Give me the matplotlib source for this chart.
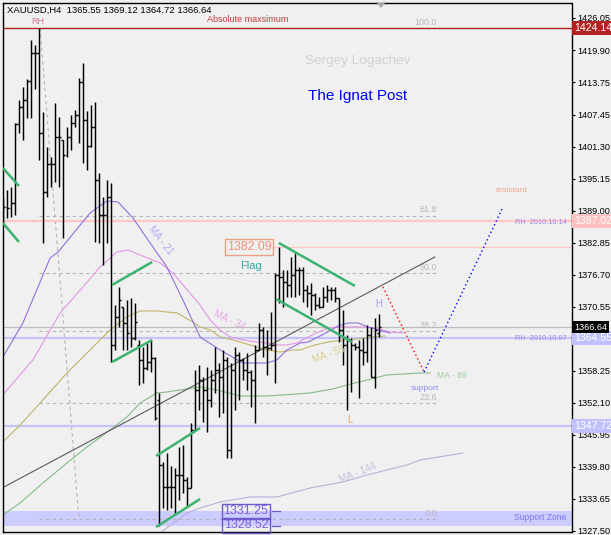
import matplotlib
matplotlib.use("Agg")
import matplotlib.pyplot as plt
import matplotlib.transforms as mtransforms
from matplotlib.collections import LineCollection
from matplotlib.patches import Polygon

plt.rcParams['font.family'] = ['Liberation Sans', 'DejaVu Sans']

# ---------------- data ----------------
symbol = "XAUUSD,H4"
last_ohlc = [1365.55, 1369.12, 1364.72, 1366.64]

opens = [1388.20, 1389.74, 1389.55, 1390.51, 1405.69, 1408.95, 1410.30, 1413.95, 1419.33, 1419.33,
         1403.96, 1392.62, 1398.00, 1398.00, 1403.19, 1402.61, 1399.73, 1403.19, 1405.88, 1407.42,
         1413.76, 1406.46, 1401.46, 1405.11, 1394.93, 1388.20, 1388.20, 1391.66, 1363.23, 1368.61,
         1370.53, 1367.46, 1365.53, 1364.57, 1363.23, 1360.35, 1358.81, 1359.96, 1360.73, 1352.66,
         1340.17, 1335.95, 1335.95, 1335.95, 1338.25, 1338.25, 1337.29, 1335.76, 1346.90, 1354.58,
         1356.50, 1354.58, 1352.66, 1356.50, 1358.43, 1357.08, 1360.35, 1343.06, 1358.43, 1361.31,
         1360.35, 1358.43, 1358.04, 1356.50, 1362.27, 1366.11, 1362.84, 1362.65, 1363.23, 1376.68,
         1376.29, 1375.33, 1374.76, 1376.68, 1377.64, 1377.64, 1373.80, 1373.22, 1372.83, 1370.91,
         1370.53, 1372.45, 1373.80, 1373.80, 1372.26, 1366.11, 1363.23, 1364.19, 1363.23, 1362.84,
         1362.27, 1361.88, 1365.15, 1357.08, 1365.55]
highs = [1391.66, 1393.01, 1393.58, 1405.88, 1410.30, 1412.80, 1414.33, 1421.83, 1420.86, 1424.14,
         1407.99, 1401.27, 1399.35, 1409.72, 1407.03, 1402.61, 1405.11, 1407.42, 1408.38, 1414.52,
         1417.41, 1408.18, 1409.34, 1409.91, 1396.27, 1391.66, 1394.93, 1394.35, 1370.91, 1374.37,
         1370.53, 1371.87, 1372.26, 1371.30, 1364.19, 1362.84, 1363.61, 1364.19, 1360.92, 1354.01,
         1340.75, 1342.48, 1339.98, 1339.60, 1343.63, 1344.02, 1337.87, 1348.24, 1358.43, 1359.39,
         1357.08, 1359.00, 1358.43, 1362.84, 1359.77, 1362.27, 1360.92, 1359.77, 1362.84, 1361.88,
         1360.73, 1361.69, 1358.43, 1363.23, 1367.46, 1366.69, 1366.11, 1369.57, 1377.06, 1382.09,
         1377.64, 1377.64, 1380.14, 1380.90, 1378.21, 1378.21, 1374.76, 1375.14, 1373.22, 1372.45,
         1374.37, 1374.76, 1374.37, 1374.37, 1372.26, 1369.95, 1365.15, 1364.57, 1363.61, 1364.19,
         1364.57, 1367.07, 1366.69, 1368.42, 1369.12]
lows = [1386.67, 1387.63, 1387.82, 1388.20, 1403.96, 1402.61, 1406.84, 1406.84, 1412.41, 1398.77,
        1382.83, 1391.66, 1393.58, 1394.54, 1393.58, 1383.79, 1399.35, 1400.69, 1405.11, 1402.04,
        1398.19, 1396.85, 1401.27, 1383.02, 1382.83, 1378.60, 1382.83, 1359.96, 1362.27, 1366.69,
        1362.27, 1362.27, 1362.84, 1364.19, 1355.54, 1355.93, 1358.43, 1358.04, 1348.82, 1328.52,
        1331.91, 1331.53, 1331.91, 1330.95, 1333.45, 1334.79, 1332.11, 1335.76, 1346.90, 1350.74,
        1348.44, 1346.51, 1351.32, 1354.01, 1349.40, 1350.16, 1341.52, 1341.52, 1350.74, 1352.66,
        1356.50, 1354.58, 1351.32, 1348.24, 1362.27, 1360.92, 1357.46, 1362.27, 1355.93, 1371.30,
        1370.53, 1372.45, 1372.45, 1372.45, 1372.83, 1371.49, 1370.53, 1368.99, 1369.95, 1370.34,
        1370.53, 1371.49, 1371.87, 1371.49, 1363.80, 1359.39, 1350.74, 1354.20, 1362.27, 1353.05,
        1359.39, 1359.96, 1357.08, 1354.97, 1364.72]
closes = [1389.74, 1389.55, 1390.51, 1405.69, 1408.95, 1410.30, 1413.95, 1419.33, 1419.33, 1403.96,
          1392.62, 1398.00, 1398.00, 1403.19, 1403.19, 1399.73, 1403.19, 1405.88, 1407.42, 1413.76,
          1406.46, 1401.46, 1405.11, 1394.93, 1388.20, 1388.20, 1391.66, 1363.23, 1368.61, 1371.87,
          1367.46, 1365.53, 1364.57, 1367.65, 1360.35, 1358.81, 1359.96, 1360.73, 1349.20, 1340.17,
          1335.95, 1335.95, 1335.95, 1338.25, 1338.25, 1337.29, 1335.76, 1346.90, 1354.58, 1356.50,
          1354.58, 1352.66, 1356.50, 1358.43, 1357.08, 1360.35, 1343.06, 1358.43, 1361.31, 1360.35,
          1358.43, 1358.04, 1356.50, 1362.27, 1366.11, 1362.84, 1362.65, 1363.23, 1376.68, 1376.29,
          1375.33, 1374.76, 1376.68, 1377.64, 1377.64, 1373.80, 1373.22, 1372.83, 1370.91, 1370.53,
          1372.45, 1373.80, 1373.80, 1372.26, 1366.11, 1363.23, 1364.19, 1363.23, 1362.84, 1362.27,
          1361.88, 1365.15, 1357.08, 1366.11, 1366.64]

yticks = [1426.05, 1419.90, 1413.75, 1407.45, 1401.30, 1395.15, 1389.00, 1382.85, 1376.70,
          1370.55, 1358.25, 1352.10, 1345.95, 1339.80, 1333.65, 1327.50]

# moving averages (bar index, price)
ma21_x = [-0.1, 4.9, 11.7, 13.7, 21.7, 25.9, 28.7, 32.4, 36.7, 40.9, 44.9, 49.2, 54.2, 59.9, 65.9,
          68.4, 70.9, 74.2, 76.2, 79.7, 83.7, 86.2, 88.7, 91.2, 93.7, 96.7]
ma21_y = [1360.92, 1367.46, 1379.94, 1381.10, 1388.59, 1390.89, 1390.70, 1387.63, 1382.83, 1378.21,
          1371.87, 1364.77, 1362.27, 1359.77, 1359.77, 1360.35, 1362.27, 1363.61, 1363.80, 1365.15,
          1366.88, 1367.46, 1367.46, 1366.69, 1366.11, 1365.53]
ma34_x = [-0.8, 7.4, 14.2, 19.9, 24.2, 28.4, 31.2, 34.2, 39.2, 42.4, 49.2, 51.7, 54.2, 56.7, 59.9,
          63.4, 65.9, 68.4, 70.9, 73.4, 77.2, 81.2, 85.4, 89.7, 92.9, 96.7, 99.9]
ma34_y = [1353.05, 1360.35, 1369.38, 1374.37, 1378.21, 1381.10, 1381.48, 1380.52, 1378.98, 1377.06,
          1370.91, 1368.03, 1366.11, 1364.77, 1364.19, 1363.80, 1363.61, 1363.23, 1363.23, 1363.61,
          1365.15, 1366.50, 1366.69, 1366.69, 1366.50, 1365.73, 1365.53]
ma55_x = [-0.8, 4.2, 9.9, 15.9, 19.2, 26.7, 30.9, 34.2, 38.4, 43.4, 47.4, 49.2, 51.7, 54.2, 57.4,
          61.7, 65.9, 69.2, 72.4, 74.2, 77.9, 81.2, 85.4, 88.4, 92.2, 95.4]
ma55_y = [1344.02, 1347.86, 1352.66, 1357.85, 1360.35, 1366.11, 1368.61, 1369.76, 1369.76, 1369.38,
          1367.65, 1366.69, 1366.11, 1364.77, 1364.19, 1363.23, 1362.27, 1361.88, 1362.27, 1362.27,
          1363.23, 1363.80, 1364.19, 1364.38, 1364.77, 1364.96]
ma89_x = [-0.8, 4.2, 9.9, 15.9, 20.9, 26.7, 30.9, 34.2, 38.4, 40.9, 45.9, 49.2, 53.4, 59.2, 65.9,
          69.9, 76.7, 82.4, 85.9, 90.9, 95.9, 104.2, 106.7]
ma89_y = [1330.18, 1332.87, 1336.72, 1340.55, 1343.63, 1346.90, 1349.40, 1352.08, 1354.01, 1354.20,
          1354.78, 1355.16, 1354.58, 1353.43, 1353.43, 1353.62, 1354.01, 1354.78, 1355.54, 1356.50,
          1357.46, 1357.85, 1357.85]
ma144_x = [39.2, 45.9, 49.2, 54.2, 61.7, 68.4, 76.7, 84.9, 90.9, 95.9, 100.9, 104.2, 114.9]
ma144_y = [1327.11, 1330.95, 1331.91, 1333.07, 1334.03, 1334.03, 1335.76, 1336.91, 1338.25, 1339.21,
           1340.17, 1341.13, 1342.48]

# trend line
trend_x = [-0.3, 107.9]
trend_y = [1335.76, 1380.14]

# green channel segments
green_x0 = [-0.1, -0.1, 27.2, 27.2, 38.2, 38.2, 68.9, 68.2]
green_y0 = [1397.23, 1386.67, 1374.76, 1359.96, 1341.90, 1328.26, 1382.83, 1372.07]
green_x1 = [3.9, 3.9, 37.2, 37.2, 49.2, 49.2, 87.9, 87.2]
green_y1 = [1393.77, 1383.02, 1379.17, 1364.19, 1347.28, 1333.64, 1374.57, 1363.80]

# projection
proj_red_x = [94.9, 105.2]
proj_red_y = [1374.37, 1358.04]
proj_blue_x = [105.2, 124.7]
proj_blue_y = [1358.04, 1389.36]

# levels
abs_max = 1424.14
rh_1014 = 1387.02
flag_top = 1382.09
bid = 1366.64
rh_1007 = 1364.55
level_1347 = 1347.72
zone_low = 1328.52
zone_high = 1331.25

fib_high = 1424.14
fib_low = 1329.80
fib_levels = [0.0, 23.6, 38.2, 50.0, 61.8, 100.0]
fib_x = [9.0, 108.4]
fib_diag_x = [9.2, 18.9]
fib_diag_y = [1424.14, 1329.80]

# ---------------- figure ----------------
BG = '#F0F0F0'
W, H = 611, 535
fig = plt.figure(figsize=(W / 100, H / 100), dpi=100, facecolor=BG)
ax = fig.add_axes([2.5 / W, 3 / H, 569 / W, 529 / H])
ax.set_facecolor(BG)
ax.set_xlim(-0.2, 142.05)
ax.set_ylim(1327.30, 1428.93)

PX = mtransforms.Affine2D().scale(1 / W, -1 / H).translate(0, 1) + fig.transFigure
BL = mtransforms.blended_transform_factory(PX, ax.transData)

# support zone
ax.axhspan(zone_low, zone_high, color='#CCCCFF', lw=0, zorder=0.5)

# fibonacci
for lev in fib_levels:
    p = fib_low + lev / 100.0 * (fib_high - fib_low)
    ax.hlines(p, fib_x[0], fib_x[1], colors='#B4B4B4', linestyles=(0, (3, 3)), lw=0.8, zorder=1)
    ax.text(fib_x[1], p + 0.25, f"{lev:.1f}", color='#B8B8B8', fontsize=6.4,
            ha='right', va='bottom', zorder=1)
ax.plot(fib_diag_x, fib_diag_y, color='#B4B4B4', ls=(0, (3, 3)), lw=0.8, zorder=1)

# horizontal lines
ax.axhline(rh_1014, color='#FFC4C4', lw=1.6, zorder=1)
ax.hlines(flag_top, 67.4, 142.05, colors='#FFC8C8', lw=0.9, zorder=1)
ax.axhline(bid, color='#BDBDBD', lw=0.9, zorder=1)
ax.axhline(rh_1007, color='#C4C4F8', lw=1.6, zorder=1)
ax.axhline(level_1347, color='#C4C4F8', lw=1.6, zorder=1)
ax.axhline(abs_max, color='#B22222', lw=1.0, zorder=1.2)

# MAs
ax.plot(ma144_x, ma144_y, color='#B8B0DC', lw=0.8, zorder=2)
ax.plot(ma89_x, ma89_y, color='#86BC86', lw=0.8, zorder=2)
ax.plot(ma55_x, ma55_y, color='#C2B468', lw=0.8, zorder=2)
ax.plot(ma34_x, ma34_y, color='#E496E4', lw=0.8, zorder=2)
ax.plot(ma21_x, ma21_y, color='#9370DB', lw=0.8, zorder=2)
ax.plot(trend_x, trend_y, color='#5A5A5A', lw=0.8, zorder=2)

# OHLC bars
segs = []
for i, (o, h, l, c) in enumerate(zip(opens, highs, lows, closes)):
    segs.append([(i, l), (i, h)])
    segs.append([(i - 0.45, o), (i, o)])
    segs.append([(i, c), (i + 0.45, c)])
ax.add_collection(LineCollection(segs, colors='black', linewidths=1.05, zorder=3))

# green channel lines
for x0, y0, x1, y1 in zip(green_x0, green_y0, green_x1, green_y1):
    ax.plot([x0, x1], [y0, y1], color='#3CB371', lw=1.8, solid_capstyle='butt', zorder=4)

# projection
ax.plot(proj_red_x, proj_red_y, color='#FF0000', ls=(0, (1, 2)), lw=1.0, zorder=4)
ax.plot(proj_blue_x, proj_blue_y, color='#0000FF', ls=(0, (1, 2)), lw=1.0, zorder=4)

# axes styling
for s in ax.spines.values():
    s.set_color('black')
    s.set_linewidth(1.0)
ax.set_xticks([])
ax.yaxis.tick_right()
ax.set_yticks(yticks)
ax.set_yticklabels([f"{v:.2f}" for v in yticks])
ax.tick_params(axis='y', direction='out', length=2.5, width=0.8, pad=1.5, labelsize=6.6,
               colors='black')

# right price boxes
for p, col, fs in [(abs_max, '#B22222', 7.6), (rh_1014, '#FFC0C0', 7.6),
                   (level_1347, '#C0C0FF', 7.6), (rh_1007, '#C0C0FF', 7.6), (bid, '#000000', 6.6)]:
    ax.text(574, p, f"{p:.2f}", transform=BL, color='white', fontsize=fs,
            ha='left', va='center',
            bbox=dict(boxstyle='square,pad=0.18', fc=col, ec='none'), zorder=6)

# texts (placed in image pixel coordinates)
def t(x, y, s, **kw):
    kw.setdefault('ha', 'center')
    kw.setdefault('va', 'center')
    return fig.text(x, y, s, transform=PX, **kw)

t(7, 10, f"{symbol}  " + " ".join(f"{v:.2f}" for v in last_ohlc), ha='left',
  fontsize=6.8, color='black')
t(38, 21, "RH", fontsize=6.5, color='#D07890')
t(207, 19.5, "Absolute maxsimum", ha='left', fontsize=6.5, color='#C83C3C')
t(358, 61, "Sergey Logachev", fontsize=9.7, color='#D2D2D2')
t(358, 96, "The Ignat Post", fontsize=11, color='#0000FF')
t(511, 190, "resistant", fontsize=6.0, color='#F0A88C')
t(567, 222, "RH  2010.10.14", ha='right', fontsize=5.3, color='#9A8AE8')
t(567, 338, "RH  2010.10.07", ha='right', fontsize=5.3, color='#9A8AE8')
t(249, 247, f"{flag_top:.2f}", fontsize=8.9, color='#F09070',
  bbox=dict(boxstyle='square,pad=0.15', fc='none', ec='#E8A080', lw=1.0))
t(251, 266, "Flag", fontsize=8, color='#30A8A8')
t(379, 304, "H", fontsize=7, color='#A898F0')
t(350, 420, "L", fontsize=7, color='#F0A060')
t(425, 388, "support", fontsize=6.0, color='#8C8CF0')
t(437, 375, "MA - 89", ha='left', fontsize=6.2, color='#A0D0A0')
t(567, 517, "Support Zone", ha='right', fontsize=6.2, color='#7878F0')
t(161, 240, "MA - 21", fontsize=7, color='#B8A8F0', rotation=-52)
t(229, 320, "MA - 34", fontsize=7, color='#E8A8E8', rotation=-25)
t(329, 354, "MA - 55", fontsize=7, color='#D8CC90', rotation=20)
t(358, 473, "MA - 144", fontsize=7, color='#C8C0E0', rotation=22)
for yy, p in [(511.5, zone_high), (525.5, zone_low)]:
    t(246, yy, f"{p:.2f}", fontsize=8.9, color='#7C5CE0',
      bbox=dict(boxstyle='square,pad=0.1', fc='none', ec='#6A5ACD', lw=1.0))
for p in [zone_high, zone_low]:
    ax.plot([67.2, 69.2], [p, p], color='#6A5ACD', lw=0.9, zorder=4)

# chart-shift marker
fig.patches.append(Polygon([(377, 3), (385, 3), (381, 8)], closed=True, transform=PX,
                           fc='#A8A8A8', ec='none'))

fig.savefig('out.png', dpi=100, facecolor=BG)
